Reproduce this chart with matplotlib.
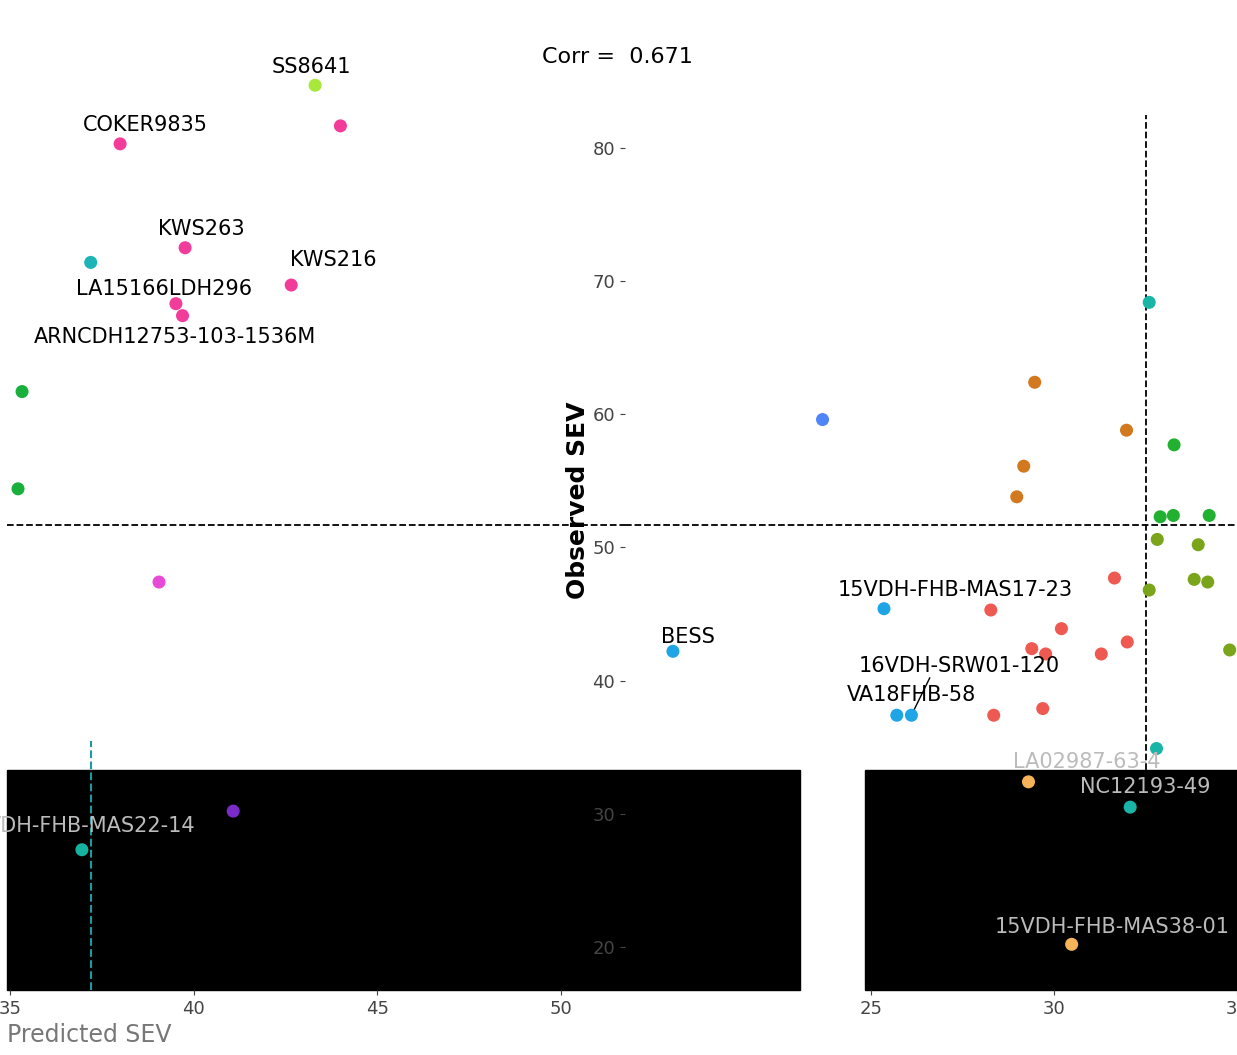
import matplotlib.pyplot as plt
from matplotlib.patches import Rectangle

# right half: x 18.3-35
r_x = [23.67, 19.58, 25.35, 25.7, 26.1,
       29.47, 31.98, 29.17, 28.98,
       31.65, 28.27, 30.2, 29.39, 29.77, 31.29, 32.0, 28.35, 29.69,
       32.6, 32.8, 32.08,
       33.28, 32.9, 33.26, 34.24,
       32.82, 33.94, 33.83, 34.2, 32.6, 34.8,
       29.3, 30.48]
r_y = [59.6, 42.2, 45.4, 37.4, 37.4,
       62.4, 58.8, 56.1, 53.8,
       47.7, 45.3, 43.9, 42.4, 42.0, 42.0, 42.9, 37.4, 37.9,
       68.4, 34.9, 30.5,
       57.7, 52.3, 52.4, 52.4,
       50.6, 50.2, 47.6, 47.4, 46.8, 42.3,
       32.4, 20.2]
r_c = ['#4f86f7', '#1ea5e6', '#1ea5e6', '#1ea5e6', '#1ea5e6'] + ['#d2781e'] * 4 + ['#ee5a52'] * 9 \
    + ['#1bb5a8'] * 3 + ['#22b030'] * 4 + ['#7aa51a'] * 6 + ['#f7b35a'] * 2
r_labels = {1: 'BESS', 2: '15VDH-FHB-MAS17-23', 3: 'VA18FHB-58', 4: '16VDH-SRW01-120',
            20: 'NC12193-49', 31: 'LA02987-63-4', 32: '15VDH-FHB-MAS38-01'}
r_lpos = {1: (20.0, 43.3), 2: (27.3, 46.8), 3: (26.1, 38.9), 4: (27.4, 41.1),
          20: (32.5, 32.0), 31: (30.9, 33.9), 32: (31.6, 21.5)}

# left half: x 35-52
l_x = [43.31, 44.0, 38.0, 39.77, 37.2, 42.66, 39.52, 39.7, 35.33, 35.22, 39.06, 41.08, 36.96]
l_y = [84.7, 81.65, 80.3, 72.5, 71.4, 69.7, 68.3, 67.4, 61.7, 54.4, 47.4, 30.2, 27.3]
l_c = ['#a8e83a', '#f23c9a', '#f23c9a', '#f23c9a', '#1bb5b8', '#f23c9a', '#f23c9a', '#f23c9a',
       '#18b03a', '#18b03a', '#e84ad8', '#7a2bc8', '#18b3a0']
l_labels = {0: 'SS8641', 2: 'COKER9835', 3: 'KWS263', 5: 'KWS216', 6: 'LA15166LDH296',
            7: 'ARNCDH12753-103-1536M', 12: 'VDH-FHB-MAS22-14'}
l_lpos = {0: (43.2, 86.1), 2: (38.7, 81.7), 3: (40.2, 73.9), 5: (43.8, 71.6), 6: (39.2, 69.4),
          7: (39.5, 65.8), 12: (37.2, 29.1)}

fig = plt.figure(figsize=(12.37, 10.55), dpi=100)
W, H = 1237, 1055
ax_l = fig.add_axes([7 / W, 1 - 990 / H, (625 - 7) / W, 980 / H], zorder=2)
ax_r = fig.add_axes([625 / W, 1 - 990 / H, (1237 - 625) / W, 980 / H], zorder=2)

ylim = (16.77, 90.35)
ax_l.set_xlim(34.92, 51.75)
ax_r.set_xlim(18.27, 35.0)
for ax in (ax_l, ax_r):
    ax.set_ylim(*ylim)
    ax.set_facecolor('none')
    for s in ax.spines.values():
        s.set_visible(False)
    ax.axhline(51.7, color='black', ls='--', lw=1.3)
    ax.tick_params(labelsize=13, colors='#444444')

ax_l.scatter(l_x, l_y, c=l_c, s=70, zorder=3)
for i, t in l_labels.items():
    col = '#bbbbbb' if l_lpos[i][1] < 34 else 'black'
    ax_l.text(*l_lpos[i], t, fontsize=15, ha='center', va='center', color=col)
ax_l.axvline(37.2, ymax=(35.5 - ylim[0]) / (ylim[1] - ylim[0]), color='#1b9aa0', ls='--')
ax_l.set_xticks([35, 40, 45, 50])
ax_l.set_yticks([])
ax_l.set_xlabel('Predicted SEV', fontsize=17, loc='left', color='#777777')

ax_r.scatter(r_x, r_y, c=r_c, s=70, zorder=3)
for i, t in r_labels.items():
    col = '#bbbbbb' if r_lpos[i][1] < 34.5 else 'black'
    ax_r.text(*r_lpos[i], t, fontsize=15, ha='center', va='center', color=col)
ax_r.plot([26.1, 26.6], [37.4, 40.2], color='black', lw=1)
ax_r.axvline(32.5, ymax=(82.5 - ylim[0]) / (ylim[1] - ylim[0]), color='black', ls='--', lw=1.3)
ax_r.set_xticks([25, 30, 35])
ax_r.set_yticks([20, 30, 40, 50, 60, 70, 80])
ax_r.set_ylabel('Observed SEV', fontsize=18, fontweight='bold', labelpad=2)

fig.text(542 / W, 1 - 57 / H, 'Corr =  0.671', fontsize=16, va='center')

# dark band near the bottom
for x0, x1 in [(7, 800), (865, 1237)]:
    fig.patches.append(Rectangle((x0 / W, 1 - 990 / H), (x1 - x0) / W, 220 / H,
                                 transform=fig.transFigure, color='black', zorder=0.5))

fig.savefig('out.png', dpi=100)
